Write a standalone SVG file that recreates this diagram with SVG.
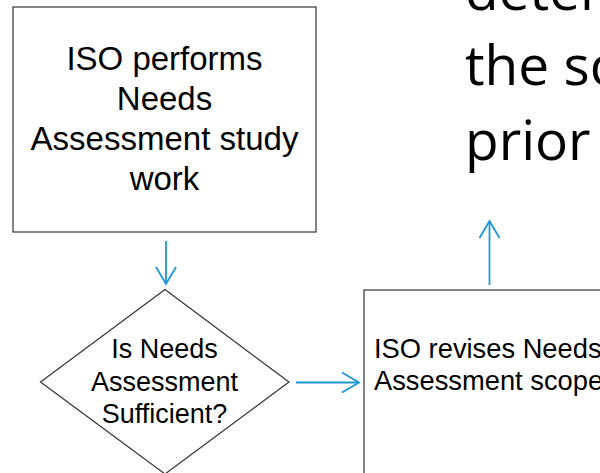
<svg xmlns="http://www.w3.org/2000/svg" width="600" height="473" viewBox="0 0 600 473">
<style>
.box{fill:#fff;stroke:#333;stroke-width:1.2}
.lbl{font-family:"Liberation Sans",Arial,sans-serif;fill:#000;text-anchor:middle}
.lbl2{font-family:"Liberation Sans",Arial,sans-serif;fill:#000}
.big{font-family:"Open Sans","Noto Sans",sans-serif;font-size:55px;fill:#000}
.conn{stroke:#1e96d7;stroke-width:1.8;fill:none}
</style>
<defs>
<marker id="arr" markerUnits="userSpaceOnUse" markerWidth="22" markerHeight="24" viewBox="0 0 22 24" refX="18" refY="11" orient="auto">
<path d="M1,1 L18,11 L1,21" fill="none" stroke="#1e96d7" stroke-width="1.8"/>
</marker>
</defs>
<rect width="600" height="473" fill="#fff"/>
<g id="bigtext">
<text class="big" x="465" y="10">deter</text>
<text class="big" x="465" y="85">the sc</text>
<text class="big" x="465" y="160">prior</text>
</g>
<g id="node-perform">
<rect class="box" x="13" y="7" width="303" height="225"/>
<text class="lbl" font-size="33" x="164.5" y="70">ISO performs</text>
<text class="lbl" font-size="33" x="164.5" y="110">Needs</text>
<text class="lbl" font-size="33" x="164.5" y="150">Assessment study</text>
<text class="lbl" font-size="33" x="164.5" y="190">work</text>
</g>
<g id="node-decision">
<polygon class="box" points="165,289.5 289,382 165,474 40.5,382"/>
<text class="lbl" font-size="27" x="164.5" y="358">Is Needs</text>
<text class="lbl" font-size="27" x="164.5" y="391">Assessment</text>
<text class="lbl" font-size="27" x="164.5" y="423">Sufficient?</text>
</g>
<g id="node-revise">
<rect class="box" x="364" y="290" width="300" height="250"/>
<text class="lbl2" font-size="27.3" x="374" y="358">ISO revises Needs</text>
<text class="lbl2" font-size="27.3" x="374" y="390">Assessment scope</text>
</g>
<g id="connectors">
<line class="conn" x1="166" y1="241" x2="166" y2="284" marker-end="url(#arr)"/>
<line class="conn" x1="296" y1="382.5" x2="359" y2="382.5" marker-end="url(#arr)"/>
<line class="conn" x1="489.5" y1="285" x2="489.5" y2="221" marker-end="url(#arr)"/>
</g>
</svg>
